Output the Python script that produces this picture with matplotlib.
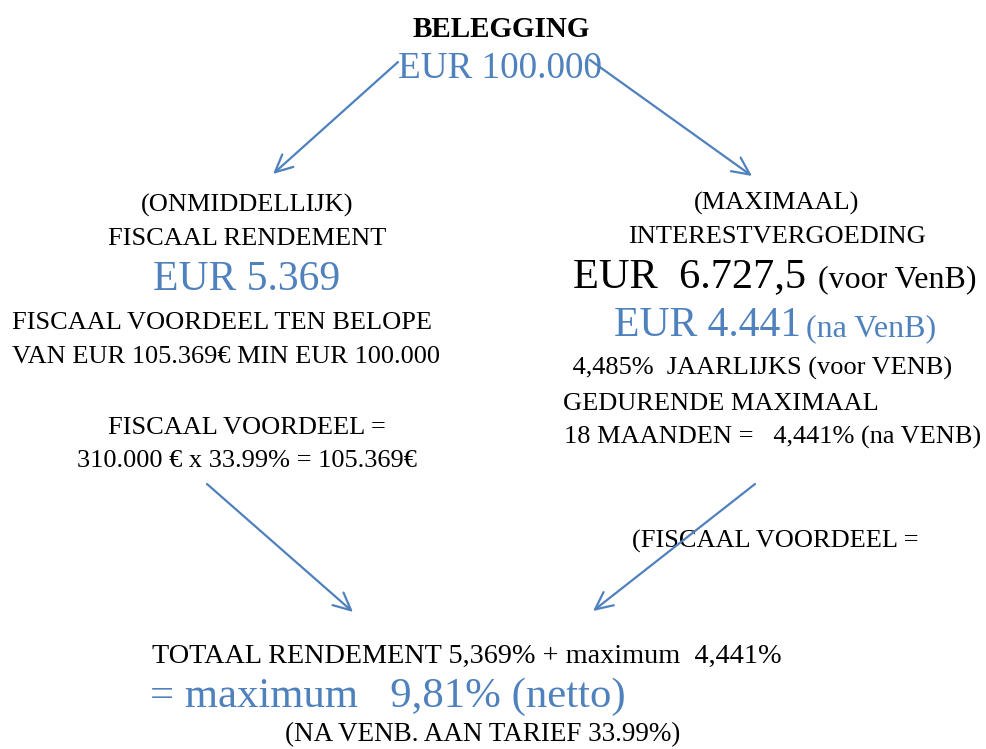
import matplotlib
matplotlib.use("Agg")
import matplotlib.pyplot as plt

BLUE = "#4F81BD"
BLACK = "#000000"
FONT = ["Liberation Serif", "DejaVu Serif"]

# ---- content ----
title = "BELEGGING"
investment = "EUR 100.000"

left_head = ["(ONMIDDELLIJK)", "FISCAAL RENDEMENT"]
left_value = "EUR 5.369"
left_block = ["FISCAAL VOORDEEL TEN BELOPE", "VAN EUR 105.369€ MIN EUR 100.000"]
left_calc = ["FISCAAL VOORDEEL =", "310.000 € x 33.99% = 105.369€"]

right_head = ["(MAXIMAAL)", "INTERESTVERGOEDING"]
right_value1 = ["EUR  6.727,5", "(voor VenB)"]
right_value2 = ["EUR 4.441", "(na VenB)"]
right_block = [" 4,485%  JAARLIJKS (voor VENB)", "GEDURENDE MAXIMAAL", "18 MAANDEN =   4,441% (na VENB)"]
right_note = "(FISCAAL VOORDEEL ="

total_line = "TOTAAL RENDEMENT 5,369% + maximum  4,441%"
total_value = "= maximum   9,81% (netto)"
total_note = "(NA VENB. AAN TARIEF 33.99%)"

# ---- figure ----
W, H = 987, 749
fig = plt.figure(figsize=(W / 100, H / 100), dpi=100)
ax = fig.add_axes([0, 0, 1, 1])
ax.set_xlim(0, W)
ax.set_ylim(H, 0)
ax.axis("off")


def t(x, y, s, size, color=BLACK, ha="center", weight="normal"):
    ax.text(x, y, s, fontsize=size, color=color, ha=ha, va="baseline",
            family=FONT, fontweight=weight)


# top
t(501, 37, title, 21, weight="bold")
t(500, 78, investment, 26.7, color=BLUE)

# left column
t(247, 212, left_head[0], 19)
t(247, 245, left_head[1], 19)
t(247, 290, left_value, 30, color=BLUE)
t(12, 329, left_block[0], 19, ha="left")
t(12, 363, left_block[1], 19, ha="left")
t(247, 434, left_calc[0], 19)
t(247, 467, left_calc[1], 19)

# right column
t(777, 210, right_head[0], 19)
t(777, 243, right_head[1], 19)
t(573, 287, right_value1[0], 30.5, ha="left")
t(818, 287, right_value1[1], 23, ha="left")
t(614, 336, right_value2[0], 30, color=BLUE, ha="left")
t(806, 336, right_value2[1], 23, color=BLUE, ha="left")
t(566, 375, right_block[0], 19, ha="left")
t(563, 410, right_block[1], 19, ha="left")
t(564, 444, right_block[2], 19, ha="left")
t(632, 548, right_note, 19, ha="left")

# bottom
t(152, 663, total_line, 20.3, ha="left")
t(150, 707, total_value, 30.8, color=BLUE, ha="left")
t(483, 741, total_note, 19.5)

# arrows
arrows = [((398, 62), (273, 174)),
          ((590, 60), (752, 176)),
          ((207, 484), (353, 612)),
          ((755, 484), (593, 611))]
for (x0, y0), (x1, y1) in arrows:
    ax.annotate("", xy=(x1, y1), xytext=(x0, y0),
                arrowprops=dict(arrowstyle="->,head_length=1.25,head_width=0.6",
                                mutation_scale=10, color=BLUE, lw=1.6,
                                shrinkA=0, shrinkB=0))

fig.savefig("out.png", dpi=100)
